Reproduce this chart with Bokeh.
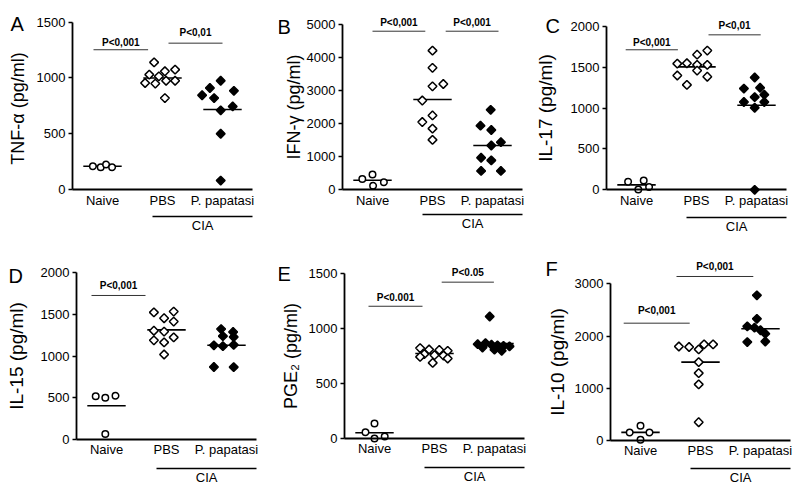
import math
from bokeh.plotting import figure
from bokeh.layouts import column, row
from bokeh.models import Range1d, FixedTicker, LinearAxis, Label
from bokeh.embed import file_html
from bokeh.resources import INLINE
from bokeh.core.properties import value

FONT = "Liberation Sans"
groups = ["Naive", "PBS", "P. papatasi"]
cia_label = "CIA"

# ---------------- data ----------------
# A  TNF-alpha
tnf_naive = [209, 200, 224, 200]
tnf_pbs = [1140, 1030, 1060, 1075, 1015, 955, 950, 975, 975, 820]
tnf_pp = [975, 910, 885, 845, 820, 745, 710, 500, 80]
tnf_means = [209, 1000, 717]
tnf_ticks = [0, 500, 1000, 1500]
# B  IFN-gamma
ifn_naive = [330, 460, 120, 230]
ifn_pbs = [4210, 3690, 3130, 3200, 2700, 2250, 2050, 1850, 1510]
ifn_pp = [2420, 1940, 1810, 1340, 1440, 970, 890, 570, 570]
ifn_means = [290, 2730, 1340]
ifn_ticks = [0, 1000, 2000, 3000, 4000, 5000]
# C  IL-17
il17_naive = [100, 115, 5, 35]
il17_pbs = [1655, 1705, 1545, 1550, 1530, 1530, 1400, 1460, 1385, 1285]
il17_pp = [1375, 1240, 1250, 1135, 1165, 1075, 1075, 1005, 0]
il17_means = [60, 1505, 1035]
il17_ticks = [0, 500, 1000, 1500, 2000]
# D  IL-15
il15_naive = [520, 500, 525, 65]
il15_pbs = [1525, 1535, 1455, 1415, 1305, 1295, 1225, 1190, 1165, 1020]
il15_pp = [1325, 1290, 1240, 1230, 1130, 1120, 1135, 870, 868]
il15_means = [405, 1315, 1130]
il15_ticks = [0, 500, 1000, 1500, 2000]
# E  PGE2
pge_naive = [140, 60, 3, 20]
pge_pbs = [825, 812, 808, 800, 770, 760, 757, 745, 730, 690]
pge_pp = [1112, 860, 870, 855, 850, 845, 840, 830, 810, 800]
pge_means = [55, 775, 865]
pge_ticks = [0, 500, 1000, 1500]
# F  IL-10
il10_naive = [155, 280, 155, 15]
il10_pbs = [1800, 1790, 1745, 1840, 1840, 1500, 1290, 1075, 350]
il10_pp = [2780, 2330, 2185, 2160, 2110, 2045, 1885, 1895]
il10_means = [155, 1500, 2140]
il10_ticks = [0, 1000, 2000, 3000]

# horizontal scatter of the points inside each column (category units)
tnf_jit = [[-0.16, -0.03, 0.06, 0.16],
           [-0.14, -0.22, 0.04, 0.21, -0.06, -0.29, -0.12, 0.06, 0.21, 0.04],
           [-0.03, -0.21, 0.19, -0.34, -0.14, 0.17, -0.03, -0.03, -0.03]]
ifn_jit = [[-0.17, 0.0, 0.01, 0.19],
           [0, 0, 0, 0.18, -0.17, 0, -0.17, 0, 0],
           [-0.03, -0.2, -0.02, -0.02, 0.14, -0.19, -0.02, -0.19, 0.14]]
il17_jit = [[-0.14, 0.12, 0.03, 0.21],
            [0.01, 0.18, -0.32, -0.16, 0.01, 0.18, -0.32, 0.01, 0.18, -0.16],
            [-0.03, -0.21, 0.06, -0.03, 0.13, -0.21, 0.13, -0.03, -0.03]]
il15_jit = [[-0.18, -0.02, 0.15, -0.02],
            [-0.21, 0.12, -0.04, 0.12, -0.21, -0.04, 0.12, -0.21, -0.04, -0.04],
            [-0.09, 0.11, -0.06, 0.12, -0.21, -0.06, 0.12, -0.21, 0.12]]
pge_jit = [[0.0, -0.15, 0.0, 0.17],
           [-0.24, -0.09, 0.08, 0.22, -0.17, 0.0, 0.15, -0.24, 0.22, -0.03],
           [-0.08, -0.28, -0.15, -0.05, 0.05, 0.15, 0.25, -0.2, 0.0, 0.12]]
il10_jit = [[-0.18, 0.0, 0.15, 0.0],
            [-0.36, -0.19, -0.03, 0.06, 0.21, -0.03, -0.03, -0.03, -0.03],
            [-0.06, -0.06, -0.22, -0.1, 0.0, 0.08, -0.22, 0.08]]

# significance brackets: (from, to, bar value, text value, text)
tnf_br = [(0.85, 1.76, 1253, 1321, "P<0,001"), (2.1, 3.0, 1312, 1410, "P<0,01")]
ifn_br = [(1.0, 1.88, 4797, 5070, "P<0,001"), (2.22, 3.1, 4797, 5070, "P<0,001")]
il17_br = [(0.82, 1.69, 1715, 1804, "P<0,001"), (2.2, 3.07, 1898, 2012, "P<0,01")]
il15_br = [(0.75, 1.65, 1728, 1848, "P<0,001")]
pge_br = [(0.9, 1.8, 1205, 1282, "P<0.001"), (2.12, 2.99, 1424, 1515, "P<0.05")]
il10_br = [(0.72, 1.82, 2246, 2489, "P<0,001"), (1.6, 2.88, 3140, 3331, "P<0,001")]

UNIT = 60.0  # px per category


def panel(letter, ylabel, lab_size, lab_standoff, ticks, series, jit, means, brs,
          fig_left, width, row_top, height, axis_px, y0_px, top_px,
          let_px, let_base_px, cia_px, cat_standoff):
    ymax = ticks[-1]
    s = (y0_px - top_px) / ymax
    x_start = 0.5 - (axis_px - fig_left) / UNIT
    x_end = x_start + width / UNIT
    y_end = ymax + (top_px - row_top) / s
    y_start = -(row_top + height - y0_px) / s
    p = figure(width=width, height=height, output_backend="svg", toolbar_location=None,
               x_range=Range1d(x_start, x_end), y_range=Range1d(y_start, y_end),
               x_axis_type=None, y_axis_type=None,
               min_border=0, min_border_left=0, min_border_right=0,
               min_border_top=0, min_border_bottom=0)
    p.outline_line_color = None
    p.grid.visible = False
    p.background_fill_color = "white"
    p.border_fill_color = "white"

    yax = LinearAxis(ticker=FixedTicker(ticks=ticks), bounds=(0, ymax), fixed_location=0.5)
    yax.axis_line_width = 1.8
    yax.major_tick_line_width = 1.5
    yax.major_tick_out = 4
    yax.major_tick_in = 0
    yax.minor_tick_out = 0
    yax.minor_tick_in = 0
    yax.major_label_standoff = 3
    yax.major_label_text_font = FONT
    yax.major_label_text_font_size = "13px"
    yax.major_label_text_color = "black"
    yax.axis_label = ylabel
    yax.axis_label_text_font = FONT
    yax.axis_label_text_font_size = f"{lab_size}px"
    yax.axis_label_text_font_style = "normal"
    yax.axis_label_text_color = "black"
    yax.axis_label_standoff = lab_standoff
    p.add_layout(yax, "left")

    xax = LinearAxis(ticker=FixedTicker(ticks=[1, 2, 3]), bounds=(0.5, 3.5), fixed_location=0,
                     major_label_overrides={1: groups[0], 2: groups[1], 3: groups[2]})
    xax.axis_line_width = 1.8
    xax.major_tick_out = 0
    xax.major_tick_in = 0
    xax.minor_tick_out = 0
    xax.minor_tick_in = 0
    xax.major_label_standoff = cat_standoff
    xax.major_label_text_font = FONT
    xax.major_label_text_font_size = "13px"
    xax.major_label_text_color = "black"
    p.add_layout(xax, "below")

    cax = LinearAxis(ticker=FixedTicker(ticks=[2.67]), bounds=(1.83, 3.5),
                     fixed_location=-cia_px / s,
                     major_label_overrides={2.67: cia_label})
    cax.axis_line_width = 1.5
    cax.major_tick_out = 0
    cax.major_tick_in = 0
    cax.minor_tick_out = 0
    cax.minor_tick_in = 0
    cax.major_label_standoff = 1
    cax.major_label_text_font = FONT
    cax.major_label_text_font_size = "13px"
    cax.major_label_text_color = "black"
    p.add_layout(cax, "below")

    # mean lines
    p.segment(x0=[i + 1 - 0.32 for i in range(3)], x1=[i + 1 + 0.32 for i in range(3)],
              y0=means, y1=means, line_color="black", line_width=1.6)

    naive, pbs, pp = series
    p.scatter([1 + d for d in jit[0]], naive, marker="circle", size=6.5,
              fill_color="white", line_color="black", line_width=1.5)
    p.scatter([2 + d for d in jit[1]], pbs, marker="square", angle=math.pi / 4, size=6.2,
              fill_color="white", line_color="black", line_width=1.5)
    p.scatter([3 + d for d in jit[2]], pp, marker="square", angle=math.pi / 4, size=6.2,
              fill_color="black", line_color="black", line_width=1.5)

    for (a, b, yb, yt, txt) in brs:
        p.segment(x0=[a], x1=[b], y0=[yb], y1=[yb], line_color="#333333", line_width=1)
        p.text(x=[(a + b) / 2], y=[yt], text=[txt], text_font=value(FONT),
               text_font_size="10px", text_font_style="bold", text_align="center",
               text_baseline="middle", text_color="black")

    p.add_layout(Label(x=0.5 - (axis_px - let_px) / UNIT,
                       y=ymax + (top_px - let_base_px) / s, text=letter,
                       text_font=FONT, text_font_size="20px", text_color="black",
                       text_align="left", text_baseline="alphabetic"))
    return p


TOP_Y, TOP_H = 0, 240
BOT_Y, BOT_H = 240, 246

pA = panel("A", "TNF-\u03b1  (pg/ml)", 18, 6, tnf_ticks, (tnf_naive, tnf_pbs, tnf_pp), tnf_jit,
           tnf_means, tnf_br, 0, 278, TOP_Y, TOP_H, 72, 189, 21.7, 10, 23, 27, 3)
pB = panel("B", "IFN-\u03b3 (pg/ml)", 18, 0, ifn_ticks, (ifn_naive, ifn_pbs, ifn_pp), ifn_jit,
           ifn_means, ifn_br, 278, 252, TOP_Y, TOP_H, 342, 189.3, 24, 277, 26, 25, 3)
pC = panel("C", "IL-17 (pg/ml)", 19, 12, il17_ticks, (il17_naive, il17_pbs, il17_pp), il17_jit,
           il17_means, il17_br, 530, 270, TOP_Y, TOP_H, 606, 189.3, 26, 545, 25, 28, 3)
pD = panel("D", "IL-15 (pg/ml)", 19, 11, il15_ticks, (il15_naive, il15_pbs, il15_pp), il15_jit,
           il15_means, il15_br, 0, 278, BOT_Y, BOT_H, 76, 439, 272.3, 8, 275, 29, 2)
pE = panel("E", "PGE\u2082 (pg/ml)", 18, 5, pge_ticks, (pge_naive, pge_pbs, pge_pp), pge_jit,
           pge_means, pge_br, 278, 252, BOT_Y, BOT_H, 344, 438.3, 273.3, 277, 273, 29, 2)
pF = panel("F", "IL-10 (pg/ml)", 19, 4, il10_ticks, (il10_naive, il10_pbs, il10_pp), il10_jit,
           il10_means, il10_br, 530, 270, BOT_Y, BOT_H, 610, 440, 283.3, 545, 268, 28, 2)

layout = column(row(pA, pB, pC), row(pD, pE, pF))
open("out.html", "w").write(file_html(layout, INLINE))
